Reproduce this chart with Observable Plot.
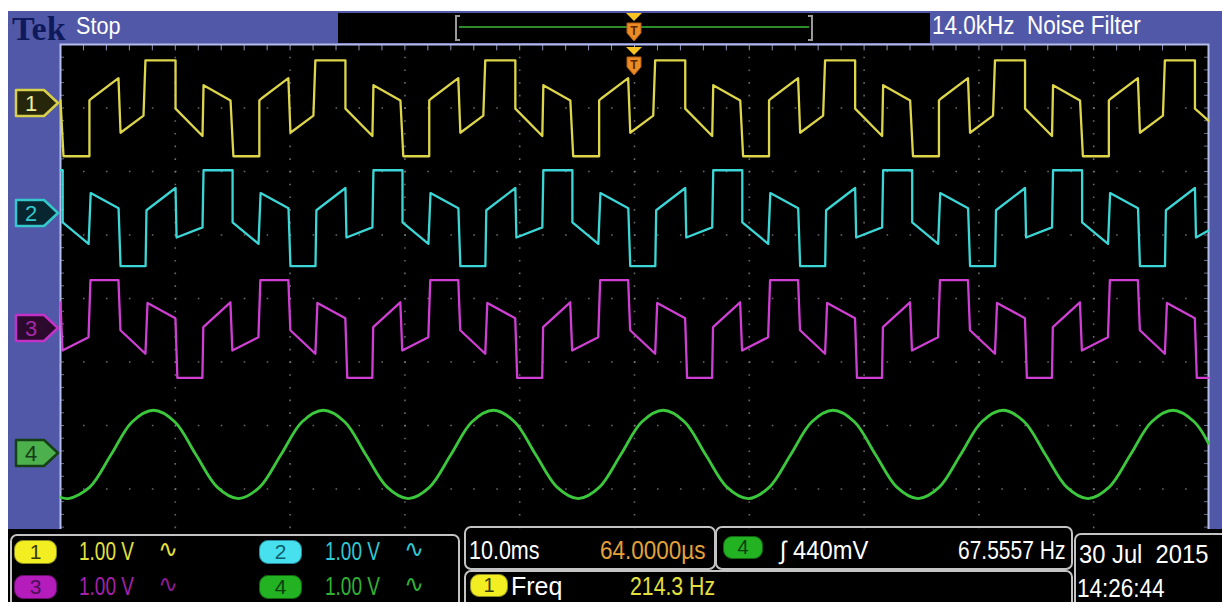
<!DOCTYPE html>
<html>
<head>
<meta charset="utf-8">
<script src="https://cdn.jsdelivr.net/npm/d3@7"></script>
<script src="https://cdn.jsdelivr.net/npm/@observablehq/plot@0.6"></script>
<style>
html,body{margin:0;padding:0;background:#fff;}
#wrap{position:relative;width:1222px;height:602px;overflow:hidden;font-family:"Liberation Sans",Arial,sans-serif;}
#panel{position:absolute;left:8px;top:11px;width:1214px;height:520px;background:#5258a8;z-index:0;}
#chart{position:absolute;left:0;top:0;z-index:1;}
#over{position:absolute;left:0;top:0;width:1222px;height:602px;z-index:2;}
#bottom{position:absolute;left:8px;top:529px;width:1214px;height:73px;background:#000;z-index:3;}
.t{position:absolute;white-space:pre;transform-origin:0 0;line-height:1;}
.box{position:absolute;border:2px solid #c4c4c4;border-radius:7px;box-sizing:border-box;}
.badge{position:absolute;border-radius:9px;text-align:center;font-family:"Liberation Sans",Arial,sans-serif;box-sizing:border-box;}
</style>
</head>
<body>
<div id="wrap">
  <div id="panel"></div>
  <div id="chart"></div>
  <div id="over"></div>
  <div id="bottom"></div>
</div>
<script>
// ---------------- data (time in ms, voltage in V relative to channel reference) ----------------
const channels = ["1", "2", "3", "4"];
const channelColors = ["#ddd54a", "#3cd6d6", "#cf3fd3", "#3cc83c"];
const channelOffsetsDiv = [3.07, 1.34, -0.47, -2.44];
const voltsPerDiv = ["1.00 V", "1.00 V", "1.00 V", "1.00 V"];

const ch1Time = [0, 0.26, 2.52, 2.52, 2.70, 5.05, 5.23, 7.23, 7.40, 10.02, 10.02, 12.37, 12.46, 14.81,
  15.06, 17.32, 17.32, 17.50, 19.85, 20.03, 22.03, 22.20, 24.82, 24.82, 27.17, 27.26, 29.61,
  29.86, 32.12, 32.12, 32.30, 34.65, 34.83, 36.83, 37.00, 39.62, 39.62, 41.97, 42.06, 44.41,
  44.66, 46.92, 46.92, 47.10, 49.45, 49.63, 51.63, 51.80, 54.42, 54.42, 56.77, 56.86, 59.21,
  59.46, 61.72, 61.72, 61.90, 64.25, 64.43, 66.43, 66.60, 69.22, 69.22, 71.57, 71.66, 74.01,
  74.26, 76.52, 76.52, 76.70, 79.05, 79.23, 81.23, 81.40, 84.02, 84.02, 86.37, 86.46, 88.81,
  89.06, 91.32, 91.32, 91.50, 93.85, 94.03, 96.03, 96.20, 98.82, 98.82, 100];
const ch1Volt = [0.05, -0.83, -0.83, 0.05, 0.08, 0.40, -0.46, -0.19, 0.68, 0.68, -0.08, -0.51, 0.29, 0.05,
  -0.83, -0.83, 0.05, 0.08, 0.40, -0.46, -0.19, 0.68, 0.68, -0.08, -0.51, 0.29, 0.05,
  -0.83, -0.83, 0.05, 0.08, 0.40, -0.46, -0.19, 0.68, 0.68, -0.08, -0.51, 0.29, 0.05,
  -0.83, -0.83, 0.05, 0.08, 0.40, -0.46, -0.19, 0.68, 0.68, -0.08, -0.51, 0.29, 0.05,
  -0.83, -0.83, 0.05, 0.08, 0.40, -0.46, -0.19, 0.68, 0.68, -0.08, -0.51, 0.29, 0.05,
  -0.83, -0.83, 0.05, 0.08, 0.40, -0.46, -0.19, 0.68, 0.68, -0.08, -0.51, 0.29, 0.05,
  -0.83, -0.83, 0.05, 0.08, 0.40, -0.46, -0.19, 0.68, 0.68, -0.08, -0.27];

const ch2Time = [0, 0.19, 0.19, 2.45, 2.63, 5.06,
  5.23, 7.41, 7.49, 10.02, 10.11, 12.37, 12.46, 14.99, 14.99, 17.25, 17.43, 19.86,
  20.03, 22.21, 22.29, 24.82, 24.91, 27.17, 27.26, 29.79, 29.79, 32.05, 32.23, 34.66,
  34.83, 37.01, 37.09, 39.62, 39.71, 41.97, 42.06, 44.59, 44.59, 46.85, 47.03, 49.46,
  49.63, 51.81, 51.89, 54.42, 54.51, 56.77, 56.86, 59.39, 59.39, 61.65, 61.83, 64.26,
  64.43, 66.61, 66.69, 69.22, 69.31, 71.57, 71.66, 74.19, 74.19, 76.45, 76.63, 79.06,
  79.23, 81.41, 81.49, 84.02, 84.11, 86.37, 86.46, 88.99, 88.99, 91.25, 91.43, 93.86,
  94.03, 96.21, 96.29, 98.82, 98.91, 100];
const ch2Volt = [0.68, 0.68, -0.14, -0.48, 0.32, 0.08,
  -0.83, -0.83, 0.05, 0.40, -0.38, -0.22, 0.68, 0.68, -0.14, -0.48, 0.32, 0.08,
  -0.83, -0.83, 0.05, 0.40, -0.38, -0.22, 0.68, 0.68, -0.14, -0.48, 0.32, 0.08,
  -0.83, -0.83, 0.05, 0.40, -0.38, -0.22, 0.68, 0.68, -0.14, -0.48, 0.32, 0.08,
  -0.83, -0.83, 0.05, 0.40, -0.38, -0.22, 0.68, 0.68, -0.14, -0.48, 0.32, 0.08,
  -0.83, -0.83, 0.05, 0.40, -0.38, -0.22, 0.68, 0.68, -0.14, -0.48, 0.32, 0.08,
  -0.83, -0.83, 0.05, 0.40, -0.38, -0.22, 0.68, 0.68, -0.14, -0.48, 0.32, 0.08,
  -0.83, -0.83, 0.05, 0.40, -0.38, -0.27];

const ch3Time = [0, 0.17, 2.44, 2.61, 5.05, 5.22, 7.40, 7.58, 10.01,
  10.18, 12.36, 12.44, 14.80, 14.97, 17.24, 17.41, 19.85, 20.02, 22.20, 22.38, 24.81,
  24.98, 27.16, 27.24, 29.60, 29.77, 32.04, 32.21, 34.65, 34.82, 37.00, 37.18, 39.61,
  39.78, 41.96, 42.04, 44.40, 44.57, 46.84, 47.01, 49.45, 49.62, 51.80, 51.98, 54.41,
  54.58, 56.76, 56.84, 59.20, 59.37, 61.64, 61.81, 64.25, 64.42, 66.60, 66.78, 69.21,
  69.38, 71.56, 71.64, 74.00, 74.17, 76.44, 76.61, 79.05, 79.22, 81.40, 81.58, 84.01,
  84.18, 86.36, 86.44, 88.80, 88.97, 91.24, 91.41, 93.85, 94.02, 96.20, 96.38, 98.81,
  98.98, 100];
const ch3Volt = [0.41, -0.35, -0.14, 0.76, 0.76, -0.03, -0.40, 0.40, 0.16,
  -0.78, -0.78, 0.02, 0.41, -0.35, -0.14, 0.76, 0.76, -0.03, -0.40, 0.40, 0.16,
  -0.78, -0.78, 0.02, 0.41, -0.35, -0.14, 0.76, 0.76, -0.03, -0.40, 0.40, 0.16,
  -0.78, -0.78, 0.02, 0.41, -0.35, -0.14, 0.76, 0.76, -0.03, -0.40, 0.40, 0.16,
  -0.78, -0.78, 0.02, 0.41, -0.35, -0.14, 0.76, 0.76, -0.03, -0.40, 0.40, 0.16,
  -0.78, -0.78, 0.02, 0.41, -0.35, -0.14, 0.76, 0.76, -0.03, -0.40, 0.40, 0.16,
  -0.78, -0.78, 0.02, 0.41, -0.35, -0.14, 0.76, 0.76, -0.03, -0.40, 0.40, 0.16,
  -0.78, -0.78];

const ch4Time = [0, 0.70, 2.55, 4.40, 6.25, 8.10, 9.95, 11.80, 13.65,
  15.50, 17.35, 19.20, 21.05, 22.90, 24.75, 26.60, 28.45,
  30.30, 32.15, 34.00, 35.85, 37.70, 39.55, 41.40, 43.25,
  45.10, 46.95, 48.80, 50.65, 52.50, 54.35, 56.20, 58.05,
  59.90, 61.75, 63.60, 65.45, 67.30, 69.15, 71.00, 72.85,
  74.70, 76.55, 78.40, 80.25, 82.10, 83.95, 85.80, 87.65,
  89.50, 91.35, 93.20, 95.05, 96.90, 98.75, 100];
const ch4Volt = [-0.69, -0.71, -0.53, -0.02, 0.50, 0.68, 0.50, -0.02, -0.53,
  -0.71, -0.53, -0.02, 0.50, 0.68, 0.50, -0.02, -0.53,
  -0.71, -0.53, -0.02, 0.50, 0.68, 0.50, -0.02, -0.53,
  -0.71, -0.53, -0.02, 0.50, 0.68, 0.50, -0.02, -0.53,
  -0.71, -0.53, -0.02, 0.50, 0.68, 0.50, -0.02, -0.53,
  -0.71, -0.53, -0.02, 0.50, 0.68, 0.50, -0.02, -0.53,
  -0.71, -0.53, -0.02, 0.50, 0.68, 0.50, 0.16];

// readout texts
const timebaseLabel = "10.0ms";
const positionLabel = "64.0000µs";
const triggerLabel = "∫ 440mV";
const triggerFreqLabel = "67.5557 Hz";
const measureLabel = "Freq";
const measureValue = "214.3 Hz";
const dateLabel = "30 Jul  2015";
const timeLabel = "14:26:44";
const filterLabel = "14.0kHz  Noise Filter";

// graticule: 10 horizontal divisions of 10 ms, 8 vertical divisions
const gridTimes = [10, 20, 30, 40, 50, 60, 70, 80, 90];
const gridDivs = [-3, -2, -1, 0, 1, 2, 3];
const minorTimes = d3.range(0, 100.01, 2);
const minorDivs = d3.range(-4, 4.01, 0.2);
const triggerTime = 50;

// ---------------- build tables ----------------
function table(times, volts, k) {
  return times.map((t, i) => ({t, y: channelOffsetsDiv[k] + volts[i], ch: channels[k]}));
}
const traces = [
  table(ch1Time, ch1Volt, 0),
  table(ch2Time, ch2Volt, 1),
  table(ch3Time, ch3Volt, 2),
  table(ch4Time, ch4Volt, 3)
];

const frameStroke = "#b4bcec";
const dotColor = "#8c8c8c";

const plot = Plot.plot({
  width: 1222,
  height: 602,
  marginLeft: 60,
  marginRight: 14,
  marginTop: 44,
  marginBottom: 50,
  x: {domain: [0, 100], axis: null},
  y: {domain: [-4, 4], axis: null},
  style: {background: "transparent", overflow: "visible"},
  marks: [
    Plot.frame({fill: "#000", stroke: frameStroke, strokeWidth: 2}),
    Plot.ruleX(gridTimes, {stroke: dotColor, strokeWidth: 1.6, strokeDasharray: "1.6,11.1", strokeOpacity: 0.75}),
    Plot.ruleY(gridDivs, {stroke: dotColor, strokeWidth: 1.6, strokeDasharray: "1.6,21.36", strokeOpacity: 0.75}),
    Plot.ruleX(minorTimes, {y1: 4, y2: 3.9, stroke: frameStroke, strokeWidth: 1, strokeOpacity: 0.8}),
    Plot.ruleY(minorDivs, {x1: 0, x2: 0.35, stroke: frameStroke, strokeWidth: 1, strokeOpacity: 0.6}),
    Plot.ruleY(minorDivs, {x1: 99.65, x2: 100, stroke: frameStroke, strokeWidth: 1, strokeOpacity: 0.6}),
    Plot.line(traces[0], {x: "t", y: "y", stroke: channelColors[0], strokeWidth: 2.3}),
    Plot.line(traces[1], {x: "t", y: "y", stroke: channelColors[1], strokeWidth: 2.3}),
    Plot.line(traces[2], {x: "t", y: "y", stroke: channelColors[2], strokeWidth: 2.3}),
    Plot.line(traces[3], {x: "t", y: "y", stroke: channelColors[3], strokeWidth: 2.8, curve: "catmull-rom"})
  ]
});
document.getElementById("chart").appendChild(plot);

const xs = plot.scale("x");
const ys = plot.scale("y");

// ---------------- overlays (screen furniture) ----------------
const SANS = "'Liberation Sans',Arial,sans-serif";
const SERIF = "'Liberation Serif','DejaVu Serif',serif";
const DEJAVU = "'DejaVu Sans',sans-serif";
function txt(str, left, capTop, size, color, sx = 1, family = SANS, weight = "normal") {
  const top = capTop - 0.13 * size;
  return `<div class="t" style="left:${left}px;top:${top}px;font-size:${size}px;color:${color};transform:scaleX(${sx});font-family:${family};font-weight:${weight}">${str}</div>`;
}
function badge(label, left, top, w, h, fill, textColor, border) {
  return `<div class="badge" style="left:${left}px;top:${top}px;width:${w}px;height:${h}px;background:${fill};border:1.5px solid ${border};color:${textColor};font-size:${h - 3}px;line-height:${h - 3}px">${label}</div>`;
}
function chanMarker(label, y, fill, stroke, textColor) {
  return `<svg style="position:absolute;left:14px;top:${y - 15}px" width="48" height="30">
    <polygon points="2,2 30,2 44,15 30,28 2,28" fill="${fill}" stroke="${stroke}" stroke-width="2.5" stroke-linejoin="round"/>
    <text x="17" y="23" text-anchor="middle" font-family="Liberation Sans, Arial" font-size="22" fill="${textColor}">${label}</text></svg>`;
}
function trigMarker(x, top) {
  return `<svg style="position:absolute;left:${x - 9}px;top:${top}px" width="18" height="30">
    <polygon points="1,0 17,0 9,8" fill="#f6c224"/>
    <polygon points="2,10 16,10 16,20 9,28 2,20" fill="#ea8c24" stroke="#b65c12" stroke-width="1"/>
    <text x="9" y="22" text-anchor="middle" font-size="12" font-weight="bold" fill="#5a2800" font-family="Liberation Sans, Arial">T</text></svg>`;
}

const tx = xs.apply(triggerTime);
let over = "";
// top bar
over += txt("Tek", 12, 16, 34, "#0f1a5c", 1, SERIF, "bold");
over += txt("Stop", 76, 17, 24, "#ffffff", 0.9);
over += `<div style="position:absolute;left:338px;top:13px;width:592px;height:30px;background:#000"></div>`;
over += `<div style="position:absolute;left:455px;top:15px;width:2px;height:26px;background:#9a9a9a"></div>`;
over += `<div style="position:absolute;left:455px;top:15px;width:5px;height:2px;background:#9a9a9a"></div>`;
over += `<div style="position:absolute;left:455px;top:39px;width:5px;height:2px;background:#9a9a9a"></div>`;
over += `<div style="position:absolute;left:811px;top:15px;width:2px;height:26px;background:#9a9a9a"></div>`;
over += `<div style="position:absolute;left:808px;top:15px;width:5px;height:2px;background:#9a9a9a"></div>`;
over += `<div style="position:absolute;left:808px;top:39px;width:5px;height:2px;background:#9a9a9a"></div>`;
over += `<div style="position:absolute;left:459px;top:26px;width:350px;height:2px;background:#2c8c2c"></div>`;
over += trigMarker(tx, 13);
over += trigMarker(tx, 47);
over += txt(filterLabel, 932, 16, 25, "#ffffff", 0.9);
// channel reference markers
over += chanMarker(channels[0], ys.apply(channelOffsetsDiv[0]), "#26260a", "#d8d04a", "#ecec9a");
over += chanMarker(channels[1], ys.apply(channelOffsetsDiv[1]), "#082630", "#34c8cc", "#34c8cc");
over += chanMarker(channels[2], ys.apply(channelOffsetsDiv[2]), "#2c0a2e", "#c232c6", "#a22aa6");
over += chanMarker(channels[3], ys.apply(channelOffsetsDiv[3]), "#4cb04c", "#153f15", "#173a17");
document.getElementById("over").innerHTML = over;

// bottom readout bar (coordinates relative to #bottom which starts at x=8, y=529)
const B = (x) => x - 8, BY = (y) => y - 529;
let bot = "";
bot += `<div class="box" style="left:${B(10)}px;top:${BY(534)}px;width:450px;height:80px"></div>`;
bot += `<div class="box" style="left:${B(464)}px;top:${BY(526)}px;width:252px;height:44px"></div>`;
bot += `<div class="box" style="left:${B(715)}px;top:${BY(526)}px;width:358px;height:44px"></div>`;
bot += `<div class="box" style="left:${B(464)}px;top:${BY(570)}px;width:609px;height:44px"></div>`;
bot += `<div class="box" style="left:${B(1074)}px;top:${BY(533)}px;width:170px;height:80px"></div>`;

const row1 = 542, row2 = 577;
bot += badge(channels[0], B(14), BY(540), 43, 24, "#f2ee22", "#3a3a10", "#8a8a20");
bot += txt(voltsPerDiv[0], B(79), BY(row1), 25, "#e4e03e", 0.76);
bot += txt("∿", B(158), BY(row1) - 2, 24, "#e4e03e", 1, DEJAVU);
bot += badge(channels[1], B(259), BY(540), 43, 24, "#46e0ee", "#0e5e6a", "#2a8a9a");
bot += txt(voltsPerDiv[1], B(325), BY(row1), 25, "#30c8d2", 0.76);
bot += txt("∿", B(404), BY(row1) - 2, 24, "#30c8d2", 1, DEJAVU);
bot += badge(channels[2], B(14), BY(575), 43, 24, "#b41cbc", "#4e0e54", "#6a106e");
bot += txt(voltsPerDiv[2], B(79), BY(row2), 25, "#a521ac", 0.76);
bot += txt("∿", B(158), BY(row2) - 2, 24, "#8e1c94", 1, DEJAVU);
bot += badge(channels[3], B(259), BY(575), 43, 24, "#22b222", "#0e3e0e", "#126612");
bot += txt(voltsPerDiv[3], B(325), BY(row2), 25, "#32b232", 0.76);
bot += txt("∿", B(404), BY(row2) - 2, 24, "#32b232", 1, DEJAVU);

bot += txt(timebaseLabel, B(469), BY(541), 25, "#ffffff", 0.86);
bot += txt(positionLabel, B(600), BY(541), 25, "#e3a23a", 0.9);
bot += badge(channels[3], B(723), BY(536), 40, 23, "#22b222", "#0e3e0e", "#126612");
bot += txt(triggerLabel, B(780), BY(541), 25, "#ffffff", 0.95);
bot += txt(triggerFreqLabel, B(958), BY(541), 25, "#ffffff", 0.84);
bot += txt(dateLabel, B(1079), BY(545), 25, "#ffffff", 0.95);

bot += badge(channels[0], B(470), BY(574), 38, 23, "#f2ee22", "#3a3a10", "#8a8a20");
bot += txt(measureLabel, B(511), BY(577), 25, "#ffffff", 1);
bot += txt(measureValue, B(630), BY(577), 25, "#e4e03e", 0.85);
bot += txt(timeLabel, B(1077), BY(579), 25, "#ffffff", 0.9);
document.getElementById("bottom").innerHTML = bot;
</script>
</body>
</html>
